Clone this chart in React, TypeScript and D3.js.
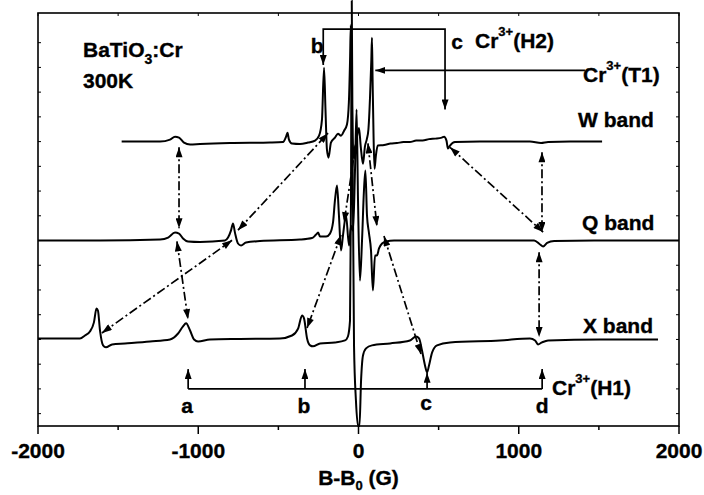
import React from 'react'
import * as d3 from 'd3'

const width = 704
const height = 495

const xMajorTicks = [-2000, -1000, 0, 1000, 2000]
const xMinorTicks = [-1500, -500, 500, 1500]
const yTickValues = d3.range(5, 160, 10)

const bandLabels = ['W band', 'Q band', 'X band']
const bandOffsets = [115, 75, 35]

// [field (G), signal (a.u.)]
const wBand = [
  [-1478, 0], [-1238, 0], [-1176, 0.8], [-1145, 2], [-1120, 1.6], [-1089, -0.4], [-1051, -1.2],
  [-989, -1], [-802, -0.6], [-552, -0.4], [-471, -0.2], [-452, 2], [-443, 3.6], [-434, 0.8],
  [-415, -0.8], [-365, -1], [-315, -0.4], [-271, 0.4], [-246, 2.4], [-228, 8.9], [-215, 29.9],
  [-206, 12.9], [-197, -3.2], [-187, -6.5], [-172, -0.4], [-147, 1.6], [-128, 3.2], [-109, 2.4],
  [-90, 4.4], [-72, 6.9], [-60, 16], [-53, 32], [-48, 47], [-43, 25], [-37, 2], [-28, -7],
  [-18, -2], [-8, 2.5], [3, 5.5], [14, -2], [28, -9], [40, -2], [52, 1], [62, 5], [72, 18],
  [80, 33], [84, 42], [88, 25], [94, 2], [100, -11], [108, -6], [120, -1.6], [160, -1.4],
  [200, -0.8], [240, -0.6], [280, -0.2], [320, -0.2], [360, 0.4], [400, 0.4], [440, 1],
  [480, 1.2], [520, 1.6], [534, 2], [549, 0.4], [558, -2.8], [571, -1.6], [602, -0.2],
  [758, 0], [1070, 0], [1139, -0.6], [1183, -0.2], [1320, 0], [1520, 0],
]

const qBand = [
  [-2000, 0], [-1613, 0], [-1238, 0.4], [-1188, 1.2], [-1145, 3.2], [-1120, 2.8], [-1095, 0.8],
  [-1064, -0.4], [-989, -0.6], [-833, 0], [-814, 1.2], [-796, 4], [-783, 6.9], [-771, 3.2],
  [-752, -1.2], [-733, -2], [-702, -0.8], [-615, -0.2], [-365, 0.4], [-290, 1], [-265, 2.4],
  [-252, 3.2], [-240, 1.6], [-202, 1.6], [-178, 2.8], [-159, 7.3], [-147, 16.2], [-134, 22.2],
  [-122, 10.1], [-109, -4], [-97, 2], [-78, 10.1], [-59, -2], [-47, 6], [-34, 4], [-22, 28],
  [-12, 53], [-3, 16.2], [9, -16.2], [22, 0], [34, 20.2], [43, 28.3], [53, 10.1], [65, 3.2],
  [78, -4], [90, -20.2], [103, -6.1], [115, -6.1], [128, -3.2], [147, -1.2], [172, -0.4],
  [222, 0], [846, 0], [1096, 0], [1133, -1.6], [1152, -2.4], [1177, -1], [1221, -0.2],
  [1470, 0], [2000, 0],
]

const xBand = [
  [-2000, 0.4], [-1738, 0.4], [-1707, 1.6], [-1676, 3.2], [-1651, 6.9], [-1635, 12.5],
  [-1626, 11.7], [-1613, 3.6], [-1594, -2.4], [-1576, -3.2], [-1538, -2], [-1457, -1.6],
  [-1301, -0.8], [-1176, 0], [-1126, 2.4], [-1095, 5.3], [-1076, 6.5], [-1051, 3.6],
  [-1026, 0], [-1001, -0.8], [-927, 0], [-739, 0.2], [-490, 0.4], [-415, 1.6], [-377, 4.4],
  [-352, 9.7], [-340, 8.5], [-321, 0.4], [-302, -2.4], [-284, -2.8], [-240, -1.6],
  [-147, -1.2], [-84, -0.4], [-66, 1.2], [-53, 7.6], [-47, 56], [-42, 137], [-37, 75],
  [-28, -2.4], [-16, -24.7], [-3, -35], [6, -35], [16, -16.6], [28, -6.5], [47, -3.6],
  [84, -2.4], [197, -1.6], [321, -0.4], [359, 1.2], [378, 0.4], [396, -4.4], [415, -10.5],
  [428, -13.3], [440, -10.5], [459, -5.3], [490, -2.4], [571, -1.2], [883, -0.4], [1070, 0.4],
  [1102, -0.4], [1120, -2], [1145, -1.2], [1183, -0.4], [1508, 0], [1869, 0],
]

const bands = [wBand, qBand, xBand]

// line positions marked by the brackets
const h1Fields = [-1063, -334, 428, 1146]
const h1Letters = ['a', 'b', 'c', 'd']
const h2Fields = [-220, 540]
const t1Field = 105

// dash-dot links between bands: [from, to] in [field, a.u.]
const links = [
  [[-1120, 112.7], [-1120, 80]],
  [[-1133, 74.7], [-1064, 43.2]],
  [[-1601, 37.6], [-789, 75.1]],
  [[-752, 79.2], [-190, 118.4]],
  [[-16, 114.3], [-90, 82.4]],
  [[-109, 77.2], [-321, 39.6]],
  [[59, 114.3], [115, 80.8]],
  [[159, 76.8], [390, 29.1]],
  [[571, 112.7], [1152, 78.4]],
  [[1145, 110.7], [1145, 78.4]],
  [[1127, 70.3], [1127, 36]],
]

const font = "'Liberation Sans', Arial, sans-serif"

export default function App() {
  const x = d3.scaleLinear().domain([-2000, 2000]).range([38, 679])
  const y = d3.scaleLinear().domain([0, 167]).range([426, 13])

  const line = (off) => d3.line()
    .x(d => x(d[0]))
    .y(d => y(d[1] + off))
    .curve(d3.curveMonotoneX)

  const seg = d3.line().x(d => x(d[0])).y(d => y(d[1]))

  // a thin stroke makes the bold face a bit heavier, like the original
  const txt = { fontFamily: font, fontWeight: 'bold', fontSize: 21, fill: '#000', stroke: '#000', strokeWidth: 0.35 }

  return (
    <svg width={width} height={height} style={{ position: 'absolute', left: 0, top: 0, background: '#fff' }}>
      <defs>
        <marker id="ah" viewBox="0 0 10 7" refX="10" refY="3.5" markerWidth="10" markerHeight="7"
          markerUnits="userSpaceOnUse" orient="auto-start-reverse">
          <path d="M0,0 L10,3.5 L0,7 z" fill="#000" />
        </marker>
        <marker id="ah2" viewBox="0 0 10 7" refX="10" refY="3.5" markerWidth="11" markerHeight="7"
          markerUnits="userSpaceOnUse" orient="auto-start-reverse">
          <path d="M0,0 L10,3.5 L0,7 z" fill="#000" />
        </marker>
      </defs>

      {/* frame */}
      <rect x={x(-2000)} y={y(167)} width={x(2000) - x(-2000)} height={y(0) - y(167)}
        fill="none" stroke="#000" strokeWidth={1.6} />

      {/* x ticks */}
      {xMajorTicks.map(t => (
        <g key={'M' + t}>
          <line x1={x(t)} x2={x(t)} y1={y(0)} y2={y(0) + 8} stroke="#000" strokeWidth={1.5} />
          <line x1={x(t)} x2={x(t)} y1={y(167)} y2={y(167) + 3} stroke="#000" strokeWidth={1} />
          <text x={x(t)} y={458} textAnchor="middle" {...txt}>{t}</text>
        </g>
      ))}
      {xMinorTicks.map(t => (
        <g key={'m' + t}>
          <line x1={x(t)} x2={x(t)} y1={y(0)} y2={y(0) + 4} stroke="#000" strokeWidth={1.5} />
          <line x1={x(t)} x2={x(t)} y1={y(167)} y2={y(167) + 3} stroke="#000" strokeWidth={1} />
        </g>
      ))}
      {yTickValues.map(t => (
        <g key={'y' + t}>
          <line x1={x(-2000)} x2={x(-2000) + 3} y1={y(t)} y2={y(t)} stroke="#000" strokeWidth={1} />
          <line x1={x(2000)} x2={x(2000) - 3} y1={y(t)} y2={y(t)} stroke="#000" strokeWidth={1} />
        </g>
      ))}
      <text x={x(0)} y={485} textAnchor="middle" {...txt}>
        B-B<tspan dy={5} fontSize={13}>0</tspan><tspan dy={-5}> (G)</tspan>
      </text>

      {/* spectra */}
      {bands.map((b, i) => (
        <path key={i} d={line(bandOffsets[i])(b)} fill="none" stroke="#000" strokeWidth={2}
          strokeLinejoin="round" />
      ))}

      {/* dash-dot links */}
      {links.map((l, i) => (
        <path key={'l' + i} d={seg(l)} fill="none" stroke="#000" strokeWidth={1.7}
          strokeDasharray="9,3,2,3" markerStart="url(#ah2)" markerEnd="url(#ah2)" />
      ))}

      {/* H2 bracket */}
      <path d={seg([[h2Fields[0], 146], [h2Fields[0], 160.5], [h2Fields[1], 160.5], [h2Fields[1], 128]])}
        fill="none" stroke="#000" strokeWidth={1.7} markerStart="url(#ah)" markerEnd="url(#ah)" />
      <text x={x(h2Fields[0]) - 6} y={53} textAnchor="middle" {...txt}>b</text>
      <text x={x(h2Fields[1]) + 12} y={49} textAnchor="middle" {...txt}>c</text>
      <text x={475} y={48} {...txt}>
        Cr<tspan dy={-12} fontSize={13}>3+</tspan><tspan dy={12}>(H2)</tspan>
      </text>

      {/* T1 arrow */}
      <path d={seg([[1413, 143.8], [t1Field, 143.8]])} fill="none" stroke="#000" strokeWidth={1.7}
        markerEnd="url(#ah)" />
      <text x={583} y={82} {...txt}>
        Cr<tspan dy={-12} fontSize={13}>3+</tspan><tspan dy={12}>(T1)</tspan>
      </text>

      {/* H1 bracket */}
      <path d={seg([[h1Fields[0], 15], [h1Fields[3], 15]])} fill="none" stroke="#000" strokeWidth={1.7} />
      {h1Fields.map((f, i) => (
        <g key={'h' + i}>
          <path d={seg([[f, 15], [f, i === 2 ? 21.5 : 23]])} fill="none" stroke="#000" strokeWidth={1.7}
            markerEnd="url(#ah)" />
          <text x={x(f) + (i === 3 ? 0 : -1)} y={i === 2 ? 410 : 413} textAnchor="middle" {...txt}>{h1Letters[i]}</text>
        </g>
      ))}
      <text x={552} y={395} {...txt}>
        Cr<tspan dy={-12} fontSize={13}>3+</tspan><tspan dy={12}>(H1)</tspan>
      </text>

      {/* labels */}
      {bandLabels.map((l, i) => (
        <text key={l} x={[578, 582, 583][i]} y={[127, 230, 333][i]} {...txt}>{l}</text>
      ))}
      <text x={83} y={57} {...txt}>
        BaTiO<tspan dy={7} fontSize={14}>3</tspan><tspan dy={-7}>:Cr</tspan>
      </text>
      <text x={83} y={88} {...txt}>300K</text>
    </svg>
  )
}
